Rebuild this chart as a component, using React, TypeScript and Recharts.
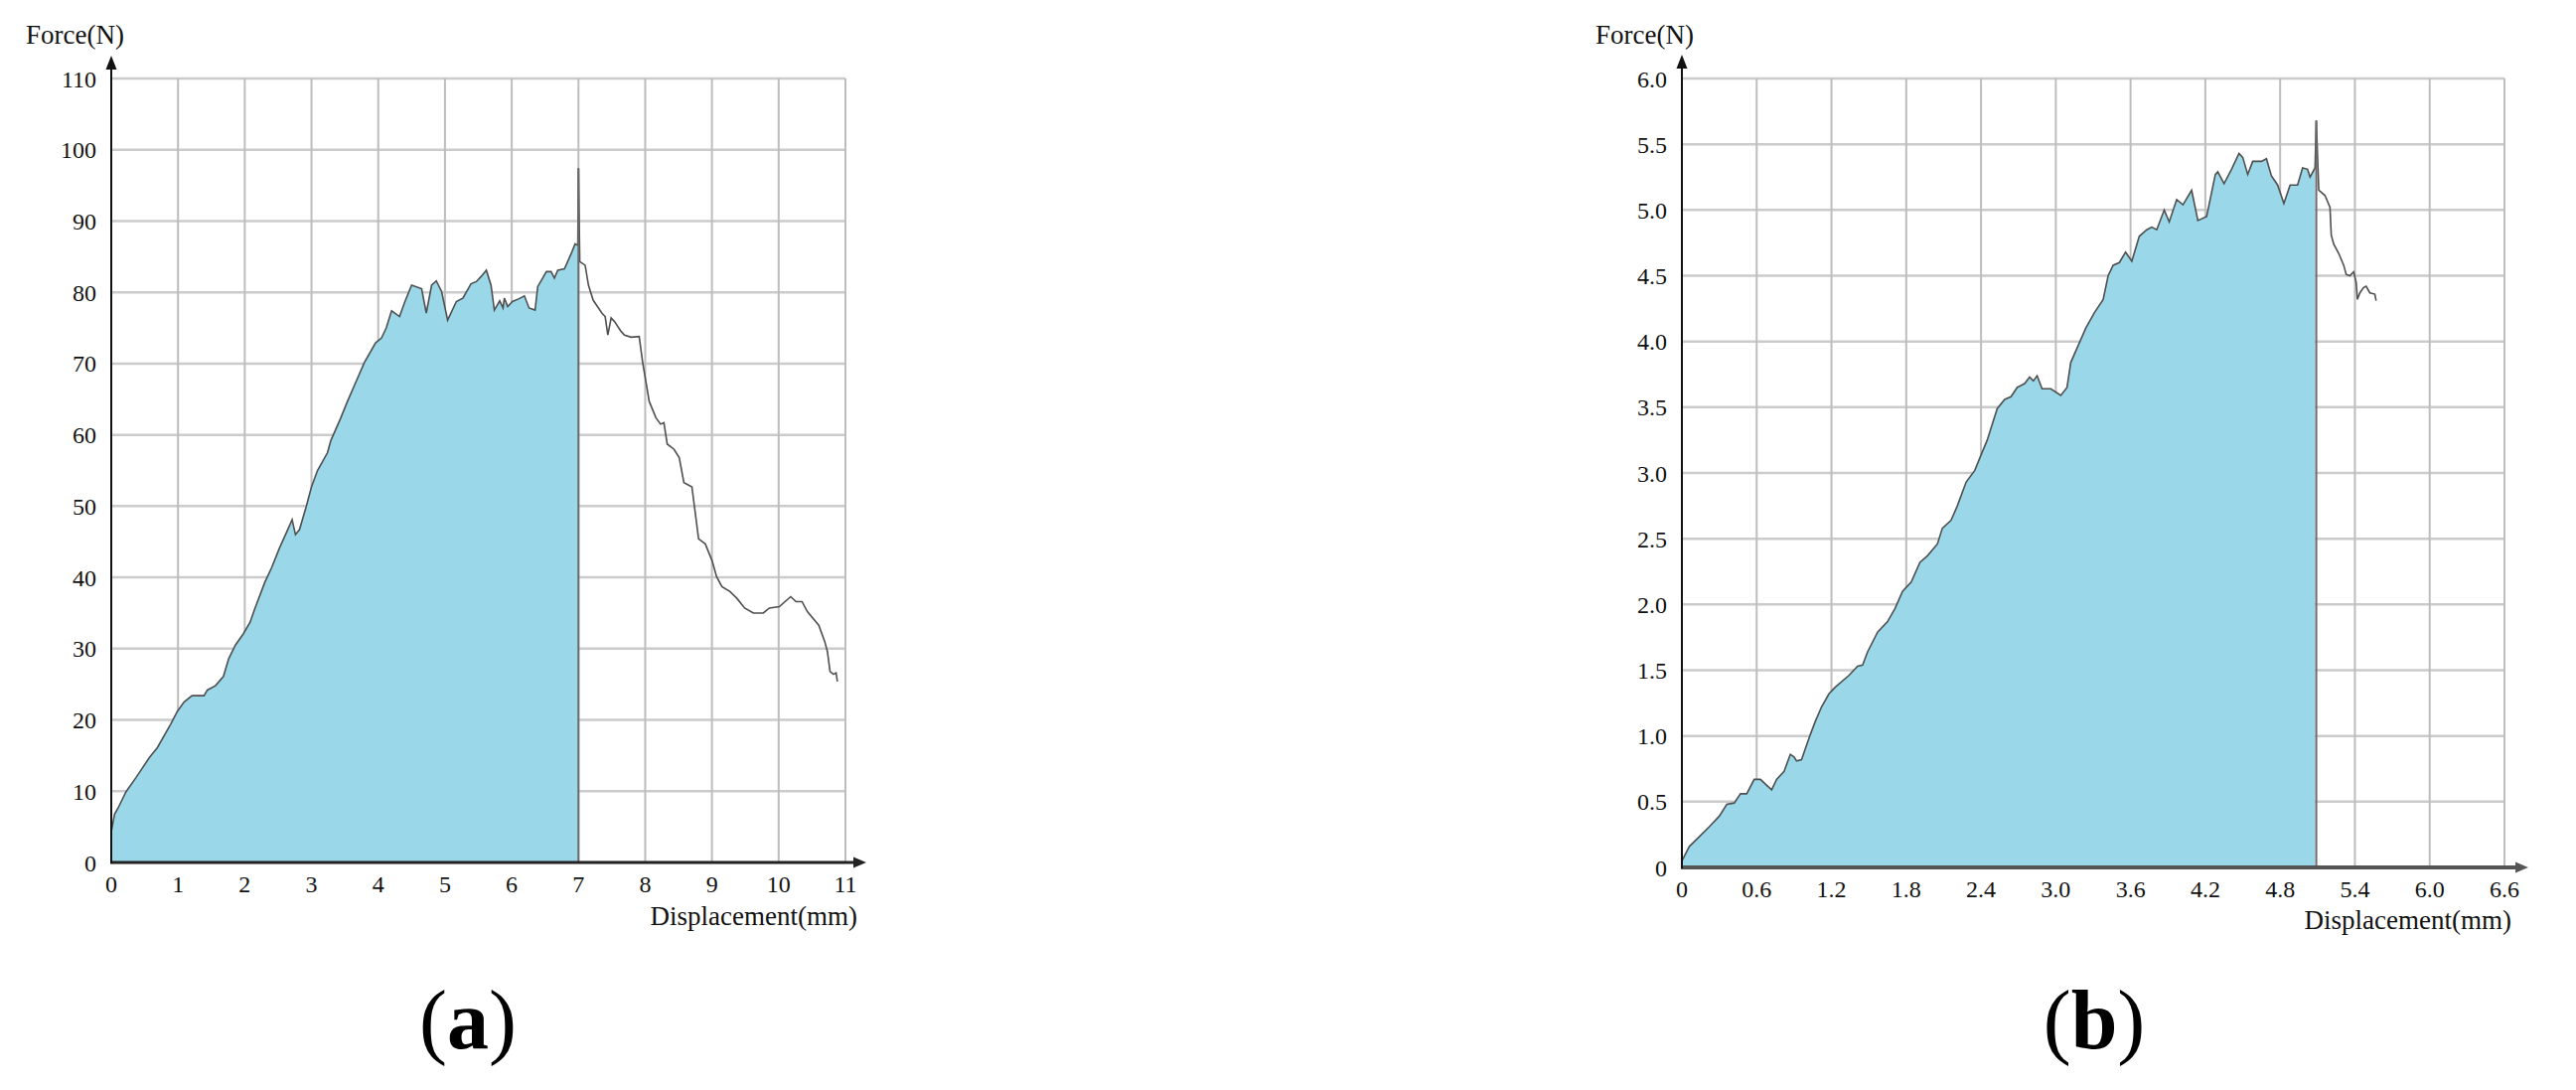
import React from 'react';
import { ComposedChart, Area, Line, XAxis, YAxis, CartesianGrid, ReferenceLine, Label } from 'recharts';

// ---------- data: panel (a) ----------
const dispA = [
  0, 0.05, 0.1, 0.22, 0.37, 0.57, 0.69, 0.89, 0.99, 1.09,
  1.21, 1.39, 1.44, 1.56, 1.68, 1.76, 1.86, 1.98, 2.08, 2.15,
  2.3, 2.4, 2.52, 2.62, 2.71, 2.76, 2.82, 2.92, 3.0, 3.09,
  3.24, 3.29, 3.44, 3.53, 3.66, 3.79, 3.96, 4.05, 4.12, 4.2,
  4.32, 4.4, 4.5, 4.65, 4.72, 4.8, 4.87, 4.95, 5.04, 5.17,
  5.27, 5.39, 5.47, 5.54, 5.62, 5.69, 5.74, 5.82, 5.87, 5.89,
  5.94, 6.01, 6.11, 6.19, 6.26, 6.35, 6.39, 6.52, 6.59, 6.64,
  6.69, 6.79, 6.89, 6.95, 6.99, 7.0, 7.02, 7.1, 7.15, 7.22,
  7.35, 7.4, 7.44, 7.49, 7.54, 7.64, 7.69, 7.79, 7.91, 7.96,
  8.01, 8.06, 8.16, 8.23, 8.28, 8.33, 8.43, 8.51, 8.58, 8.7,
  8.8, 8.9, 9.0, 9.07, 9.15, 9.27, 9.37, 9.49, 9.62, 9.77,
  9.86, 10.01, 10.18, 10.26, 10.35, 10.43, 10.6, 10.69, 10.73, 10.77,
  10.82, 10.86, 10.88,
];
const forceA = [
  4.3, 6.8, 7.6, 9.9, 11.9, 14.7, 16.1, 19.4, 21.2, 22.5,
  23.4, 23.4, 24.2, 24.8, 26.1, 28.6, 30.5, 32.1, 33.7, 35.6,
  39.3, 41.3, 44.1, 46.2, 48.1, 46.0, 46.7, 49.9, 52.7, 55.0,
  57.5, 59.2, 62.4, 64.5, 67.3, 70.1, 72.9, 73.6, 75.0, 77.4,
  76.6, 78.7, 81.0, 80.5, 77.1, 81.0, 81.6, 80.1, 76.1, 78.7,
  79.2, 81.2, 81.5, 82.2, 83.1, 81.0, 77.5, 78.8, 77.8, 79.2,
  78.0, 78.7, 79.1, 79.5, 77.8, 77.5, 80.8, 82.9, 82.9, 82.0,
  83.1, 83.3, 85.4, 86.8, 86.6, 97.4, 84.3, 83.8, 81.0, 78.9,
  77.1, 76.6, 74.0, 76.4, 75.9, 74.5, 74.0, 73.7, 73.8, 70.3,
  67.5, 64.7, 62.4, 61.5, 61.7, 58.7, 58.0, 56.8, 53.3, 52.7,
  45.4, 44.7, 42.4, 40.1, 38.7, 38.0, 37.1, 35.7, 35.0, 35.0,
  35.7, 35.9, 37.3, 36.6, 36.6, 35.2, 33.3, 31.0, 29.6, 26.8,
  26.4, 26.6, 25.4,
];
const xTicksA = [0, 1, 2, 3, 4, 5, 6, 7, 8, 9, 10, 11];
const yTicksA = [0, 10, 20, 30, 40, 50, 60, 70, 80, 90, 100, 110];

// ---------- data: panel (b) ----------
const dispB = [
  0, 0.06, 0.125, 0.22, 0.3, 0.36, 0.42, 0.47, 0.52, 0.58,
  0.63, 0.72, 0.76, 0.82, 0.87, 0.9, 0.92, 0.96, 1.03, 1.07,
  1.12, 1.18, 1.23, 1.34, 1.41, 1.45, 1.49, 1.57, 1.65, 1.71,
  1.77, 1.84, 1.91, 1.97, 2.05, 2.09, 2.16, 2.21, 2.28, 2.35,
  2.41, 2.45, 2.48, 2.53, 2.59, 2.64, 2.69, 2.75, 2.79, 2.82,
  2.85, 2.89, 2.96, 3.04, 3.09, 3.12, 3.18, 3.24, 3.31, 3.38,
  3.42, 3.46, 3.51, 3.56, 3.61, 3.67, 3.73, 3.77, 3.81, 3.87,
  3.91, 3.97, 4.02, 4.09, 4.14, 4.21, 4.28, 4.3, 4.35, 4.41,
  4.47, 4.5, 4.54, 4.58, 4.65, 4.69, 4.73, 4.78, 4.83, 4.88,
  4.94, 4.98, 5.02, 5.04, 5.08, 5.09, 5.11, 5.16, 5.2, 5.21,
  5.23, 5.27, 5.31, 5.33, 5.36, 5.39, 5.41, 5.42, 5.44, 5.47,
  5.49, 5.52, 5.56, 5.57,
];
const forceB = [
  0.05, 0.16, 0.22, 0.31, 0.39, 0.48, 0.49, 0.56, 0.56, 0.67,
  0.67, 0.59, 0.67, 0.73, 0.86, 0.84, 0.81, 0.82, 1.01, 1.11,
  1.22, 1.32, 1.37, 1.46, 1.53, 1.54, 1.64, 1.79, 1.87, 1.97,
  2.1, 2.17, 2.32, 2.37, 2.46, 2.58, 2.64, 2.75, 2.93, 3.02,
  3.16, 3.25, 3.34, 3.49, 3.56, 3.58, 3.65, 3.68, 3.73, 3.7,
  3.74, 3.64, 3.64, 3.59, 3.65, 3.84, 3.97, 4.1, 4.22, 4.32,
  4.5, 4.58, 4.6, 4.68, 4.61, 4.8, 4.85, 4.87, 4.85, 5.0,
  4.91, 5.08, 5.04, 5.15, 4.92, 4.95, 5.27, 5.29, 5.2, 5.31,
  5.43, 5.4, 5.27, 5.37, 5.37, 5.39, 5.26, 5.19, 5.05, 5.19,
  5.19, 5.32, 5.31, 5.25, 5.32, 5.68, 5.15, 5.11, 5.02, 4.81,
  4.74, 4.67, 4.58, 4.51, 4.5, 4.53, 4.45, 4.32, 4.37, 4.41,
  4.42, 4.37, 4.36, 4.31,
];
const xTicksB = [0, 0.6, 1.2, 1.8, 2.4, 3.0, 3.6, 4.2, 4.8, 5.4, 6.0, 6.6];
const yTicksB = [0, 0.5, 1.0, 1.5, 2.0, 2.5, 3.0, 3.5, 4.0, 4.5, 5.0, 5.5, 6.0];

const yLabel = 'Force(N)';
const xLabel = 'Displacement(mm)';

const FONT = '"Liberation Serif", "Times New Roman", Times, serif';

type Pt = { x: number; f: number };
const build = (xs: number[], fs: number[]): Pt[] => xs.map((x, i) => ({ x, f: fs[i] }));

const curveA = build(dispA, forceA);
const curveB = build(dispB, forceB);
const peakOf = (c: Pt[]) => c.reduce((m, p) => (p.f > m.f ? p : m), c[0]);
const peakA = peakOf(curveA);
const peakB = peakOf(curveB);
const fillA = curveA.filter((p) => p.x < peakA.x);
const fillB = curveB.filter((p) => p.x < peakB.x);

const arrowUp = (color: string, w: number, ext: number, len: number, half: number) => (p: any) => {
  const { x1, y1, x2, y2 } = p;
  const tip = y2 - ext;
  return (
    <g>
      <line x1={x1} y1={y1 + 1} x2={x2} y2={tip + len - 1} stroke={color} strokeWidth={w} />
      <polygon points={`${x2},${tip} ${x2 - half},${tip + len} ${x2 + half},${tip + len}`} fill={color} />
    </g>
  );
};
const arrowRight = (color: string, w: number, ext: number, len: number, half: number) => (p: any) => {
  const { x1, y1, x2, y2 } = p;
  const tip = x2 + ext;
  return (
    <g>
      <line x1={x1 - 1} y1={y1} x2={tip - len + 1} y2={y2} stroke={color} strokeWidth={w} />
      <polygon points={`${tip},${y2} ${tip - len},${y2 - half} ${tip - len},${y2 + half}`} fill={color} />
    </g>
  );
};

type PanelProps = {
  curve: Pt[];
  fill: Pt[];
  peak: Pt;
  xTicks: number[];
  yTicks: number[];
  fmt: (v: number) => string;
  left: number;
  width: number;
  height: number;
  margin: { top: number; right: number; bottom: number; left: number };
  yAxisWidth: number;
  xAxisColor: string;
  xAxisWidth: number;
  xArrowExt: number;
  yArrowExt: number;
  xLabelDx: number;
  xLabelDy: number;
  yLabelDy: number;
};

function Panel(props: PanelProps) {
  const {
    curve, fill, peak, xTicks, yTicks, fmt, left, width, height, margin, yAxisWidth,
    xAxisColor, xAxisWidth, xArrowExt, yArrowExt, xLabelDx, xLabelDy, yLabelDy,
  } = props;
  const xMax = xTicks[xTicks.length - 1];
  const yMax = yTicks[yTicks.length - 1];
  const tickStyle = { fill: '#111', fontSize: 24, fontFamily: FONT };
  return (
    <div style={{ position: 'absolute', left, top: 0 }}>
      <ComposedChart width={width} height={height} margin={margin}>
        <CartesianGrid vertical={false} stroke="#cbcbcb" strokeWidth={2.5} />
        <CartesianGrid horizontal={false} stroke="#bdbdbd" strokeWidth={2} />
        <XAxis
          type="number"
          dataKey="x"
          domain={[0, xMax]}
          ticks={xTicks}
          interval={0}
          tickFormatter={fmt}
          axisLine={false}
          tickLine={false}
          tickSize={0}
          tickMargin={13}
          height={60}
          tick={tickStyle}
          allowDataOverflow
        >
          <Label
            content={(lp: any) => {
              const vb = lp.viewBox || { x: 0, y: 0, width: 0 };
              return (
                <text
                  x={vb.x + vb.width + xLabelDx}
                  y={vb.y + xLabelDy}
                  textAnchor="end"
                  fontFamily={FONT}
                  fontSize={27}
                  fill="#111"
                >
                  {xLabel}
                </text>
              );
            }}
          />
        </XAxis>
        <YAxis
          type="number"
          domain={[0, yMax]}
          ticks={yTicks}
          interval={0}
          tickFormatter={fmt}
          axisLine={false}
          tickLine={false}
          tickSize={0}
          tickMargin={15}
          width={yAxisWidth}
          tick={tickStyle}
          allowDataOverflow
        >
          <Label
            content={(lp: any) => {
              const vb = lp.viewBox || { x: 0, y: 0 };
              return (
                <text x={vb.x + 26} y={vb.y + yLabelDy} fontFamily={FONT} fontSize={27} fill="#111">
                  {yLabel}
                </text>
              );
            }}
          />
        </YAxis>
        <Area
          data={fill}
          dataKey="f"
          type="linear"
          stroke="none"
          fill="#9ad7e8"
          fillOpacity={1}
          isAnimationActive={false}
        />
        <Line
          data={curve}
          dataKey="f"
          type="linear"
          stroke="#4f4f4f"
          strokeWidth={1.6}
          dot={false}
          isAnimationActive={false}
        />
        <ReferenceLine
          segment={[{ x: peak.x, y: 0 }, { x: peak.x, y: peak.f }]}
          stroke="#6a6a6a"
          strokeWidth={2}
          ifOverflow="visible"
        />
        <ReferenceLine
          segment={[{ x: 0, y: 0 }, { x: xMax, y: 0 }]}
          ifOverflow="visible"
          shape={arrowRight(xAxisColor, xAxisWidth, xArrowExt, 13, 5.5)}
        />
        <ReferenceLine
          segment={[{ x: 0, y: 0 }, { x: 0, y: yMax }]}
          ifOverflow="visible"
          shape={arrowUp('#111', 2, yArrowExt, 14, 5.5)}
        />
      </ComposedChart>
    </div>
  );
}

const fmtA = (v: number) => String(v);
const fmtB = (v: number) => (v === 0 ? '0' : v.toFixed(1));

export default function App() {
  return (
    <div style={{ position: 'absolute', left: 0, top: 0, width: 2593, height: 1097, background: '#fff' }}>
      <Panel
        curve={curveA}
        fill={fillA}
        peak={peakA}
        xTicks={xTicksA}
        yTicks={yTicksA}
        fmt={fmtA}
        left={0}
        width={960}
        height={960}
        margin={{ top: 79, right: 109, bottom: 32, left: 0 }}
        yAxisWidth={112}
        xAxisColor="#222"
        xAxisWidth={3}
        xArrowExt={21}
        yArrowExt={23}
        xLabelDx={12}
        xLabelDy={63}
        yLabelDy={-35}
      />
      <Panel
        curve={curveB}
        fill={fillB}
        peak={peakB}
        xTicks={xTicksB}
        yTicks={yTicksB}
        fmt={fmtB}
        left={1580}
        width={1000}
        height={960}
        margin={{ top: 79, right: 59, bottom: 27, left: 0 }}
        yAxisWidth={113}
        xAxisColor="#555"
        xAxisWidth={4}
        xArrowExt={24}
        yArrowExt={24}
        xLabelDx={7}
        xLabelDy={62}
        yLabelDy={-35}
      />
      <svg
        width={2593}
        height={1097}
        style={{ position: 'absolute', left: 0, top: 0, pointerEvents: 'none' }}
      >
        <text x={471} y={1055} textAnchor="middle" fontFamily={FONT} fontSize={84} fill="#000">
          (<tspan fontWeight="bold">a</tspan>)
        </text>
        <text x={2108} y={1055} textAnchor="middle" fontFamily={FONT} fontSize={84} fill="#000">
          (<tspan fontWeight="bold">b</tspan>)
        </text>
      </svg>
    </div>
  );
}
